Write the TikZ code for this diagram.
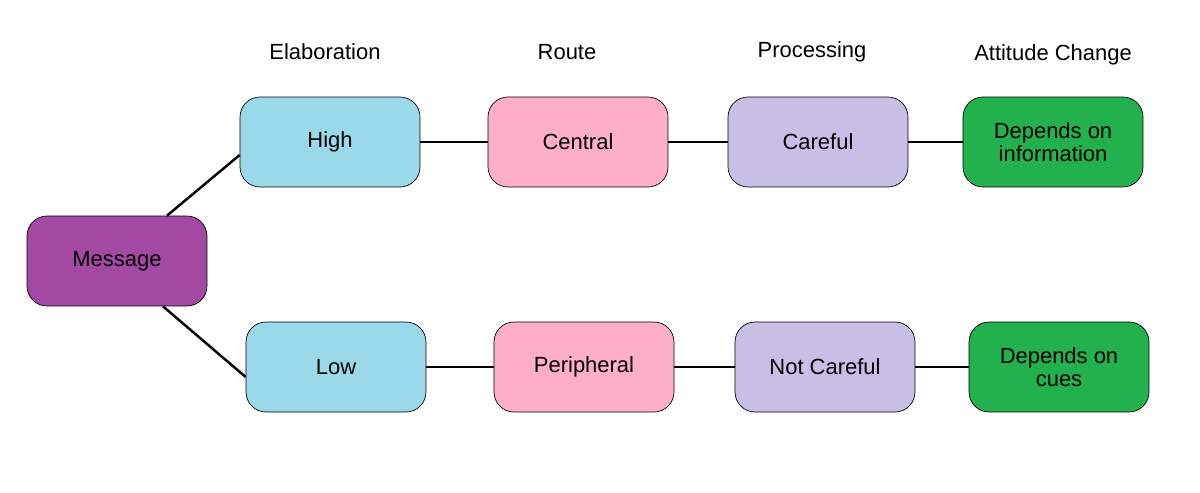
\documentclass[tikz,border=0pt]{standalone}
\usepackage{fontspec}
\setmainfont{Liberation Sans}
\definecolor{msgpurple}{HTML}{A349A4}
\definecolor{elabblue}{HTML}{99D9EA}
\definecolor{routepink}{HTML}{FFAEC9}
\definecolor{proclav}{HTML}{C8BFE7}
\definecolor{attgreen}{HTML}{22B14C}
\begin{document}
\begin{tikzpicture}[x=0.02cm, y=-0.02cm,
  box/.style={draw, rounded corners=0.4cm, minimum width=3.6cm, minimum height=1.8cm,
    align=center, font=\fontsize{12.5}{13}\selectfont, inner sep=1pt},
  head/.style={font=\fontsize{12.5}{13}\selectfont},
  link/.style={line width=1.4pt}]
  \useasboundingbox (0,0) rectangle (1200,493);
  \node [head] (elab) at (325,52) {Elaboration};
  \node [head] (route) at (567,52) {Route};
  \node [head] (proc) at (812,52) {Processing};
  \node [head] (att) at (1053,55) {Attitude Change};

  \node [box, fill=msgpurple] (msg) at (117,261) {Message};
  \node [box, fill=elabblue] (high) at (330,142) {High};
  \node [box, fill=routepink] (central) at (578,142) {Central};
  \node [box, fill=proclav] (careful) at (818,142) {Careful};
  \node [box, fill=attgreen] (info) at (1053,142) {Depends on\\information};
  \node [box, fill=elabblue] (low) at (336,367) {Low};
  \node [box, fill=routepink] (periph) at (584,367) {Peripheral};
  \node [box, fill=proclav] (notcareful) at (825,367) {Not Careful};
  \node [box, fill=attgreen] (cues) at (1059,367) {Depends on\\cues};

  \draw [link] ([xshift=1cm]msg.north) -- ([yshift=-0.26cm]high.west);
  \draw [link] ([xshift=0.92cm]msg.south) -- ([yshift=-0.2cm]low.west);
  \draw [link] (high) -- (central);
  \draw [link] (central) -- (careful);
  \draw [link] (careful) -- (info);
  \draw [link] (low) -- (periph);
  \draw [link] (periph) -- (notcareful);
  \draw [link] (notcareful) -- (cues);
\end{tikzpicture}
\end{document}
